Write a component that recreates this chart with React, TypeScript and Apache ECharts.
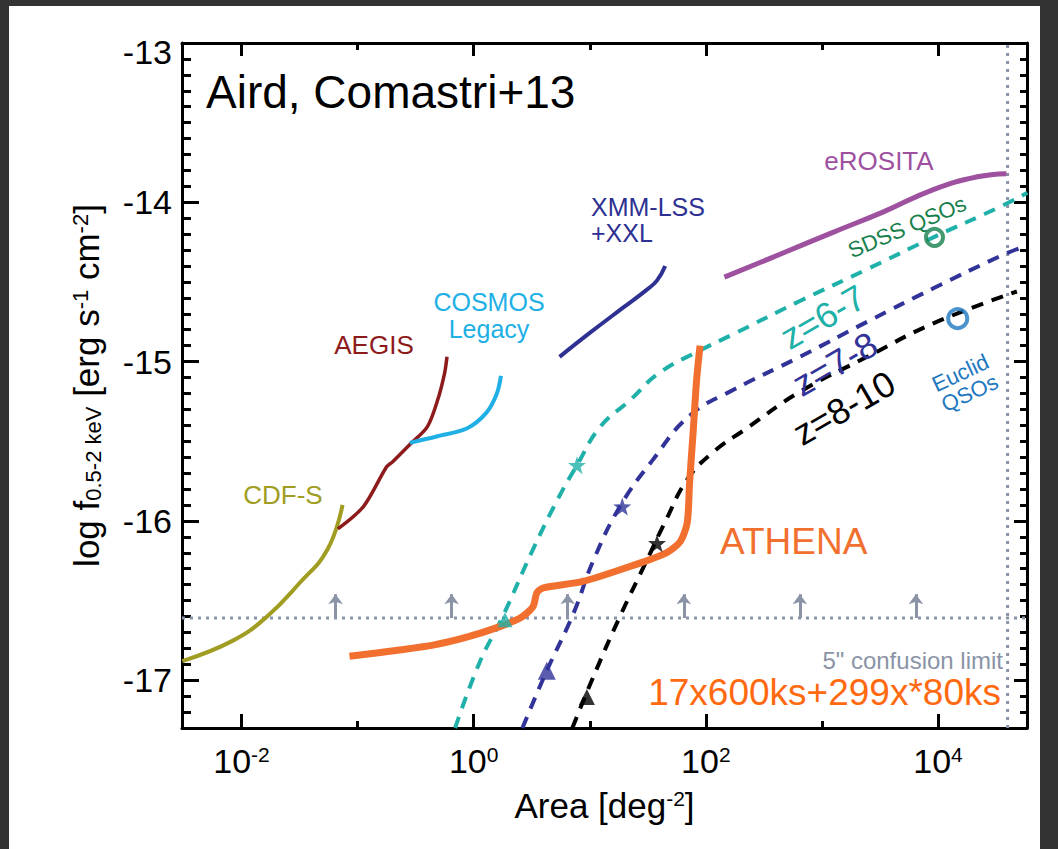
import React, { useEffect, useRef } from 'react';
import * as echarts from 'echarts';

// ---- axes (log10 of area in deg^2, log10 of flux) ----
const xMin = -2.513;
const xMax = 4.767;
const yMin = -17.3;
const yMax = -13;
const xMajorTicks = [-2, 0, 2, 4];
const xMinorTicks = [-1, 1, 3];
const yMajorTicks = [-17, -16, -15, -14, -13];

// ---- surveys (x = log10 area, y = log10 flux limit) ----
const cdfsX = [-2.51, -2.07, -1.78, -1.5, -1.26, -1.13];
const cdfsY = [-16.88, -16.75, -16.6, -16.39, -16.18, -15.9];

const aegisX = [-1.17, -0.95, -0.75, -0.7, -0.55, -0.4, -0.31, -0.25, -0.23];
const aegisY = [-16.05, -15.91, -15.66, -15.63, -15.52, -15.41, -15.24, -15.07, -14.97];

const cosmosX = [-0.55, -0.32, -0.06, 0.11, 0.2, 0.235];
const cosmosY = [-15.51, -15.47, -15.42, -15.32, -15.2, -15.09];

const xmmX = [0.74, 1.0, 1.29, 1.49, 1.58, 1.65];
const xmmY = [-14.97, -14.82, -14.66, -14.55, -14.49, -14.4];

const erositaX = [2.16, 2.66, 3.09, 3.53, 3.96, 4.34, 4.59];
const erositaY = [-14.47, -14.32, -14.19, -14.06, -13.92, -13.84, -13.82];

// ---- high-z QSO curves ----
const z67X = [-0.16, 0.05, 0.25, 0.51, 0.72, 0.89, 1.09, 1.35, 1.6, 1.95, 2.23, 2.81, 3.39, 3.96, 4.53, 4.77];
const z67Y = [-17.3, -16.89, -16.6, -16.18, -15.87, -15.65, -15.41, -15.24, -15.07, -14.93, -14.83, -14.62, -14.42, -14.22, -14.03, -13.94];

const z78X = [0.42, 0.63, 0.86, 1.03, 1.26, 1.54, 1.86, 2.23, 2.81, 3.39, 3.96, 4.53, 4.73];
const z78Y = [-17.3, -16.94, -16.58, -16.25, -15.91, -15.62, -15.34, -15.18, -14.97, -14.75, -14.54, -14.34, -14.28];

const z810X = [0.85, 1.03, 1.26, 1.49, 1.66, 1.84, 2.06, 2.35, 2.81, 3.39, 3.96, 4.68];
const z810Y = [-17.3, -16.98, -16.6, -16.25, -15.99, -15.74, -15.57, -15.42, -15.19, -14.97, -14.76, -14.56];

// ---- ATHENA ----
const athenaX = [-1.07, -0.64, -0.35, -0.06, 0.2, 0.4, 0.51, 0.545, 0.6, 0.94, 1.37, 1.66, 1.78, 1.84, 1.86, 1.89, 1.92, 1.95];
const athenaY = [-16.85, -16.81, -16.78, -16.73, -16.67, -16.61, -16.54, -16.45, -16.42, -16.38, -16.28, -16.2, -16.13, -16.01, -15.76, -15.45, -15.12, -14.9];

// ---- markers: triangles and stars on the z curves (z=6-7, 7-8, 8-10) ----
const triangleX = [0.27, 0.63, 0.975];
const triangleY = [-16.62, -16.94, -17.105];
const starX = [0.89, 1.28, 1.58];
const starY = [-15.65, -15.91, -16.14];

// ---- QSO samples ----
const sdssX = [3.97];
const sdssY = [-14.22];
const euclidX = [4.17];
const euclidY = [-14.73];

// ---- confusion limit ----
const confusionLimit = -16.61;
const confusionArrowTop = -16.46;
const confusionArrowX = [-1.19, -0.19, 0.81, 1.81, 2.81, 3.81];
const maxAreaX = 4.6;

const FONT = "'Liberation Sans', Arial, Helvetica, sans-serif";
const TEAL = '#1fb1a9';
const NAVY = '#313399';
const GREY = '#8a94a6';
const ORANGE = '#f2702f';
const STAR =
  'path://M0,-10 L2.35,-3.24 L9.51,-3.09 L3.8,1.24 L5.88,8.09 L0,4 L-5.88,8.09 L-3.8,1.24 L-9.51,-3.09 L-2.35,-3.24 Z';

const pairs = (xs: number[], ys: number[]) => xs.map((x, i) => [x, ys[i]]);

function lineSeries(name: string, xs: number[], ys: number[], color: string, width: number, dashed = false, smooth = 0.45) {
  return {
    name,
    type: 'line',
    data: pairs(xs, ys),
    showSymbol: false,
    symbol: 'none',
    smooth,
    lineStyle: { color, width, type: dashed ? [12, 9] : 'solid', cap: 'butt', join: 'round' },
    silent: true,
    z: 3,
  };
}

function txt(text: string, x: number, y: number, size: number, color: string, align = 'left', rot = 0, lh = 0) {
  return {
    type: 'text',
    x,
    y,
    rotation: (rot * Math.PI) / 180,
    z: 20,
    style: {
      text,
      fontSize: size,
      fontFamily: FONT,
      fill: color,
      align,
      verticalAlign: 'middle',
      textAlign: align,
      textVerticalAlign: 'middle',
      lineHeight: lh || size,
    },
  };
}

const axisLineStyle = { show: true, onZero: false, lineStyle: { color: '#000', width: 3 } };
const hiddenAxisLine = { show: false, onZero: false };
const tickStyle = { color: '#000', width: 3 };

function buildOption() {
  const triColors = [TEAL, NAVY, '#000'];
  const triSizes = [15, 18, 16];
  const markerData = [
    ...triangleX.map((x, i) => ({
      value: [x, triangleY[i]],
      symbol: 'triangle',
      symbolSize: triSizes[i],
      itemStyle: { color: triColors[i] },
    })),
    ...starX.map((x, i) => ({
      value: [x, starY[i]],
      symbol: STAR,
      symbolSize: 18,
      itemStyle: { color: triColors[i] },
    })),
  ];

  return {
    animation: false,
    backgroundColor: '#ffffff',
    grid: {
      left: 182,
      right: 31,
      top: 43,
      bottom: 121,
      containLabel: false,
      outerBoundsMode: 'none',
    },
    xAxis: [
      {
        type: 'value',
        min: xMin,
        max: xMax,
        position: 'bottom',
        axisLine: axisLineStyle,
        axisTick: { show: true, inside: true, length: 14, lineStyle: tickStyle, customValues: xMajorTicks },
        axisLabel: {
          show: true,
          customValues: xMajorTicks,
          margin: 16,
          formatter: (v: number) => `{b|10}{s|${v}}`,
          rich: {
            b: { fontSize: 34, fontFamily: FONT, color: '#000' },
            s: { fontSize: 21, fontFamily: FONT, color: '#000', verticalAlign: 'top' },
          },
        },
        splitLine: { show: false },
        name: '{a|Area [deg}{s|-2}{a|]}',
        nameLocation: 'middle',
        nameGap: 60,
        nameMoveOverlap: false,
        nameTextStyle: {
          rich: {
            a: { fontSize: 35, fontFamily: FONT, color: '#000' },
            s: { fontSize: 21, fontFamily: FONT, color: '#000', verticalAlign: 'top' },
          },
        },
      },
      {
        type: 'value',
        min: xMin,
        max: xMax,
        position: 'bottom',
        axisLine: hiddenAxisLine,
        axisTick: { show: true, inside: true, length: 7, lineStyle: tickStyle, customValues: xMinorTicks },
        axisLabel: { show: false },
        splitLine: { show: false },
      },
      {
        type: 'value',
        min: xMin,
        max: xMax,
        position: 'top',
        axisLine: axisLineStyle,
        axisTick: { show: true, inside: true, length: 13, lineStyle: tickStyle, customValues: xMajorTicks },
        axisLabel: { show: false },
        splitLine: { show: false },
      },
      {
        type: 'value',
        min: xMin,
        max: xMax,
        position: 'top',
        axisLine: hiddenAxisLine,
        axisTick: { show: true, inside: true, length: 7, lineStyle: tickStyle, customValues: xMinorTicks },
        axisLabel: { show: false },
        splitLine: { show: false },
      },
    ],
    yAxis: [
      {
        type: 'value',
        min: yMin,
        max: yMax,
        position: 'left',
        axisLine: axisLineStyle,
        axisTick: { show: true, inside: true, length: 17, lineStyle: tickStyle, customValues: yMajorTicks },
        axisLabel: {
          show: true,
          customValues: yMajorTicks,
          margin: 10,
          fontSize: 34,
          fontFamily: FONT,
          color: '#000',
          formatter: (v: number) => (v === -13 ? '{t|-13}' : `${v}`),
          rich: { t: { fontSize: 34, fontFamily: FONT, color: '#000', padding: [18, 0, 0, 0] } },
        },
        splitLine: { show: false },
        name: '{a|log f}{s|0.5-2 keV}{a| [erg s}{p|-1}{a| cm}{p|-2}{a|]}',
        nameLocation: 'middle',
        nameRotate: 90,
        nameGap: 78,
        nameMoveOverlap: false,
        nameTextStyle: {
          rich: {
            a: { fontSize: 35, fontFamily: FONT, color: '#000' },
            s: { fontSize: 22, fontFamily: FONT, color: '#000', verticalAlign: 'bottom' },
            p: { fontSize: 22, fontFamily: FONT, color: '#000', verticalAlign: 'top' },
          },
        },
      },
      {
        type: 'value',
        min: yMin,
        max: yMax,
        interval: 0.1,
        position: 'left',
        axisLine: hiddenAxisLine,
        axisTick: { show: true, inside: true, length: 9, lineStyle: tickStyle },
        axisLabel: { show: false },
        splitLine: { show: false },
      },
      {
        type: 'value',
        min: yMin,
        max: yMax,
        position: 'right',
        axisLine: axisLineStyle,
        axisTick: { show: true, inside: true, length: 13, lineStyle: tickStyle, customValues: yMajorTicks },
        axisLabel: { show: false },
        splitLine: { show: false },
      },
      {
        type: 'value',
        min: yMin,
        max: yMax,
        interval: 0.1,
        position: 'right',
        axisLine: hiddenAxisLine,
        axisTick: { show: true, inside: true, length: 7, lineStyle: tickStyle },
        axisLabel: { show: false },
        splitLine: { show: false },
      },
    ],
    series: [
      {
        name: 'confusion',
        type: 'line',
        data: [
          [xMin, confusionLimit],
          [xMax, confusionLimit],
        ],
        symbol: 'none',
        silent: true,
        lineStyle: { color: GREY, width: 3, type: [3, 5] },
        z: 1,
        markLine: {
          silent: true,
          symbol: ['none', 'arrow'],
          symbolSize: [11, 10],
          label: { show: false },
          lineStyle: { color: GREY, width: 3, type: 'solid' },
          data: confusionArrowX.map((x) => [{ coord: [x, confusionLimit] }, { coord: [x, confusionArrowTop] }]),
        },
      },
      {
        name: 'max area',
        type: 'line',
        data: [
          [maxAreaX, yMin],
          [maxAreaX, yMax],
        ],
        symbol: 'none',
        silent: true,
        lineStyle: { color: GREY, width: 3, type: [3, 5] },
        z: 1,
      },
      lineSeries('CDF-S', cdfsX, cdfsY, '#a09d22', 4),
      lineSeries('AEGIS', aegisX, aegisY, '#8e1b1b', 3.5, false, 0.3),
      lineSeries('COSMOS Legacy', cosmosX, cosmosY, '#20b0e6', 4, false, 0.3),
      lineSeries('XMM-LSS+XXL', xmmX, xmmY, '#2e3192', 4),
      lineSeries('eROSITA', erositaX, erositaY, '#9d519f', 5),
      lineSeries('z=6-7', z67X, z67Y, TEAL, 4, true),
      lineSeries('z=7-8', z78X, z78Y, NAVY, 4, true),
      lineSeries('z=8-10', z810X, z810Y, '#000', 4, true),
      { ...lineSeries('ATHENA', athenaX, athenaY, ORANGE, 7, false, 0.25), z: 4 },
      {
        name: 'markers',
        type: 'scatter',
        data: markerData,
        silent: true,
        z: 5,
      },
      {
        name: 'SDSS QSOs',
        type: 'scatter',
        data: pairs(sdssX, sdssY),
        symbol: 'circle',
        symbolSize: 17,
        itemStyle: { color: 'rgba(255,255,255,0)', borderColor: '#17804c', borderWidth: 4 },
        silent: true,
        z: 6,
      },
      {
        name: 'Euclid QSOs',
        type: 'scatter',
        data: pairs(euclidX, euclidY),
        symbol: 'circle',
        symbolSize: 19,
        itemStyle: { color: 'rgba(255,255,255,0)', borderColor: '#1f78c0', borderWidth: 4 },
        silent: true,
        z: 6,
      },
    ],
    graphic: [
      { type: 'rect', shape: { x: 0, y: 0, width: 1058, height: 6 }, style: { fill: '#333333' }, z: 50 },
      { type: 'rect', shape: { x: 0, y: 0, width: 9, height: 849 }, style: { fill: '#333333' }, z: 50 },
      { type: 'rect', shape: { x: 1040, y: 0, width: 18, height: 849 }, style: { fill: '#333333' }, z: 50 },
      txt('Aird, Comastri+13', 206, 92, 46, '#000'),
      txt('eROSITA', 879, 161, 26, '#9d519f', 'center'),
      txt('XMM-LSS\n+XXL', 591, 220, 25, '#2e3192', 'left', 0, 26),
      txt('COSMOS\nLegacy', 489, 315, 25, '#20b0e6', 'center', 0, 27),
      txt('AEGIS', 374, 345, 26, '#8e1b1b', 'center'),
      txt('CDF-S', 283, 495, 26, '#a09d22', 'center'),
      txt('SDSS QSOs', 907, 227, 22, '#17804c', 'center', 23),
      txt('Euclid\nQSOs', 965, 383, 22, '#1f78c0', 'center', 25, 22),
      txt('z=6-7', 823, 317, 36, TEAL, 'center', 30),
      txt('z=7-8', 835, 364, 36, NAVY, 'center', 30),
      txt('z=8-10', 844, 408, 36, '#000', 'center', 30),
      txt('ATHENA', 720, 541, 37, ORANGE),
      txt('5" confusion limit', 1003, 660, 24, GREY, 'right'),
      txt('17x600ks+299x*80ks', 1001, 692, 37, '#ff6a10', 'right'),
    ],
  };
}

export default function App() {
  const ref = useRef<HTMLDivElement>(null);
  useEffect(() => {
    if (!ref.current) return;
    const chart = echarts.init(ref.current, null, { renderer: 'svg' });
    chart.setOption(buildOption() as any);
    return () => {
      chart.dispose();
    };
  }, []);
  return (
    <div
      ref={ref}
      style={{ position: 'fixed', left: 0, top: 0, width: 1058, height: 849, background: '#fff' }}
    />
  );
}
